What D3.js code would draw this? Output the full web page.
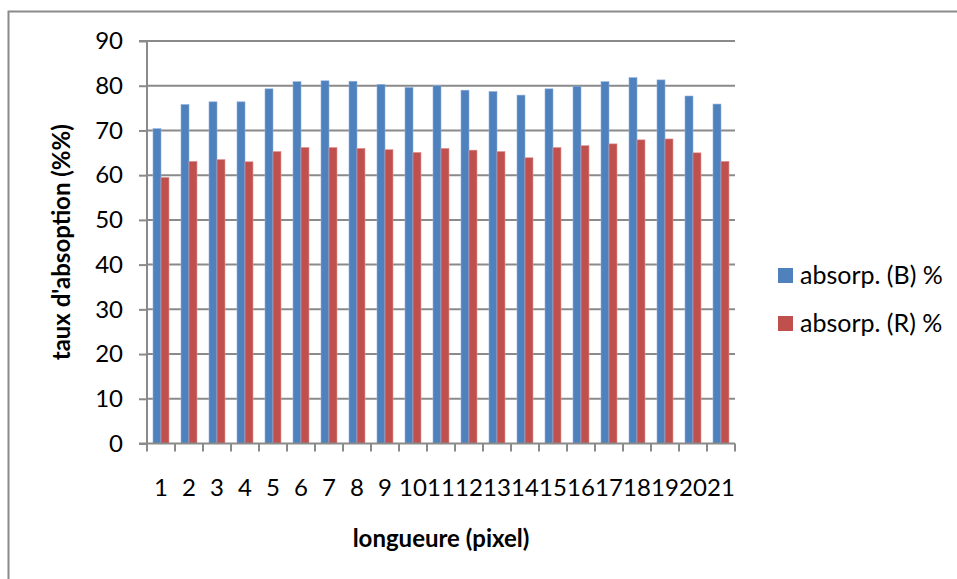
<!DOCTYPE html>
<html>
<head>
<meta charset="utf-8">
<script src="https://cdn.jsdelivr.net/npm/d3@7"></script>
<style>
  html, body { margin: 0; padding: 0; background: #fff; }
  svg { display: block; font-family: Lato, "Open Sans", sans-serif; }
</style>
</head>
<body>
<svg width="957" height="579"></svg>
<script>
const categories = ["1","2","3","4","5","6","7","8","9","10","11","12","13","14","15","16","17","18","19","20","21"];
const absorpB = [70.4, 75.8, 76.4, 76.4, 79.3, 80.9, 81.1, 81.0, 80.3, 79.6, 80.0, 79.0, 78.7, 77.9, 79.3, 79.9, 80.9, 81.8, 81.3, 77.7, 75.9];
const absorpR = [59.5, 63.1, 63.5, 63.0, 65.3, 66.2, 66.2, 66.0, 65.7, 65.1, 66.0, 65.6, 65.3, 63.9, 66.2, 66.6, 67.0, 67.9, 68.1, 65.0, 63.1];
const yTicks = [0, 10, 20, 30, 40, 50, 60, 70, 80, 90];

const seriesList = [
  { name: "absorp. (B) %", values: absorpB, color: "#4F81BD", edge: "#8fb0dc" },
  { name: "absorp. (R) %", values: absorpR, color: "#C0504D", edge: "#e09a98" }
];

function drawChart() {
  const svg = d3.select("svg");
  const attrArea = { left: 147, right: 735, top: 41, bottom: 443.5 };
  const gray = "#8a8a8a";

  // outer frame (only top and left edges visible)
  svg.append("rect")
    .attr("x", 8.5).attr("y", 11.5)
    .attr("width", 1000).attr("height", 700)
    .attr("fill", "none")
    .attr("stroke", gray)
    .attr("stroke-width", 2);

  const scaleX = d3.scaleBand()
    .domain(categories)
    .range([attrArea.left, attrArea.right])
    .padding(0);

  const scaleSub = d3.scaleBand()
    .domain(seriesList.map(s => s.name))
    .range([0, scaleX.bandwidth()])
    .paddingInner(0)
    .paddingOuter(0.75);

  const scaleY = d3.scaleLinear()
    .domain([0, 90])
    .range([attrArea.bottom, attrArea.top]);

  // gridlines
  svg.append("g")
    .selectAll("line")
    .data(yTicks.filter(t => t > 0))
    .enter()
    .append("line")
    .attr("x1", attrArea.left)
    .attr("x2", attrArea.right)
    .attr("y1", d => scaleY(d))
    .attr("y2", d => scaleY(d))
    .attr("stroke", gray)
    .attr("stroke-width", 2);

  // bars
  seriesList.forEach(s => {
    svg.append("g")
      .selectAll("rect")
      .data(categories.map((c, i) => ({ cat: c, value: s.values[i] })))
      .enter()
      .append("rect")
      .attr("x", d => scaleX(d.cat) + scaleSub(s.name))
      .attr("y", d => scaleY(d.value))
      .attr("width", scaleSub.bandwidth())
      .attr("height", d => scaleY(0) - scaleY(d.value))
      .attr("fill", s.color)
      .attr("stroke", s.edge)
      .attr("stroke-width", 0.6);
  });

  // y axis
  const axisY = d3.axisLeft(scaleY).tickValues(yTicks).tickSize(8).tickPadding(16);
  const gY = svg.append("g")
    .attr("transform", `translate(${attrArea.left},0)`)
    .call(axisY);
  gY.select(".domain").attr("stroke", gray).attr("stroke-width", 2)
    .attr("d", `M-8,${attrArea.top}H0V${attrArea.bottom}H-8`);
  gY.selectAll(".tick line").attr("stroke", gray).attr("stroke-width", 2);
  gY.selectAll(".tick text")
    .attr("fill", "#000")
    .style("font-size", "24px")
    .style("font-family", "Lato, sans-serif");

  // x axis: ticks at category boundaries
  const gX = svg.append("g")
    .attr("transform", `translate(0,${attrArea.bottom})`);
  gX.append("line")
    .attr("x1", attrArea.left).attr("x2", attrArea.right)
    .attr("stroke", gray).attr("stroke-width", 2);
  const bounds = categories.map(c => scaleX(c)).concat([attrArea.right]);
  gX.selectAll(".xt")
    .data(bounds)
    .enter()
    .append("line")
    .attr("x1", d => d).attr("x2", d => d)
    .attr("y1", 0).attr("y2", 8)
    .attr("stroke", gray).attr("stroke-width", 2);
  gX.selectAll(".xl")
    .data(categories)
    .enter()
    .append("text")
    .attr("x", d => scaleX(d) + scaleX.bandwidth() / 2)
    .attr("y", 52)
    .attr("text-anchor", "middle")
    .style("font-size", "24px")
    .text(d => d);

  // axis titles
  svg.append("text")
    .attr("x", (attrArea.left + attrArea.right) / 2)
    .attr("y", 547)
    .attr("text-anchor", "middle")
    .style("font-size", "24px")
    .style("font-weight", "bold")
    .text("longueure (pixel)");

  svg.append("text")
    .attr("transform", `translate(70,${(attrArea.top + attrArea.bottom) / 2}) rotate(-90)`)
    .attr("text-anchor", "middle")
    .style("font-size", "24px")
    .style("font-weight", "bold")
    .text("taux d'absoption (%%)");

  // legend
  const legend = svg.append("g");
  seriesList.forEach((s, i) => {
    const cy = 275.5 + i * 48;
    legend.append("rect")
      .attr("x", 778).attr("y", cy - 7.5)
      .attr("width", 15).attr("height", 15)
      .attr("fill", s.color);
    legend.append("text")
      .attr("x", 800).attr("y", cy + 8)
      .style("font-size", "25px")
      .text(s.name);
  });
}

drawChart();
</script>
</body>
</html>
